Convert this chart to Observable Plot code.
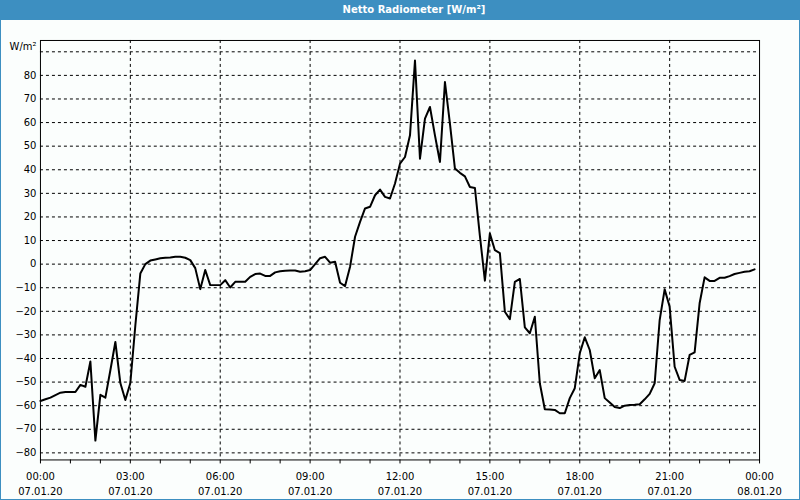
<!DOCTYPE html>
<html><head><meta charset="utf-8">
<script src="https://cdn.jsdelivr.net/npm/d3@7"></script>
<script src="https://cdn.jsdelivr.net/npm/@observablehq/plot@0.6"></script>
<style>
html,body{margin:0;padding:0;background:#fbfefd;}
#wrap{position:relative;width:800px;height:500px;box-sizing:border-box;border:1px solid #3d8fc1;border-top:none;background:#fbfefd;overflow:hidden;}
#title{height:20px;background:#3d8fc1;color:#fff;font:bold 10px "DejaVu Sans";line-height:20px;text-align:center;padding-left:28px;}
#chart{position:absolute;left:-1px;top:20px;}
#chart svg{background:transparent;}
</style></head><body>
<div id="wrap"><div id="title">Netto Radiometer [W/m²]</div><div id="chart"></div></div>
<script>
const startTime = Date.UTC(2020, 0, 7, 0, 0);
const stepMinutes = 10;
const values = [
  -58, -57.3, -56.6, -55.5, -54.5, -54.2, -54.2, -54.2, -51.2, -52,
  -41.3, -74.8, -55.4, -56.6, -45, -33, -50.4, -57.6, -50.4, -26,
  -4, 0, 1.5, 2, 2.5, 2.7, 2.8, 3.1, 3.1, 2.7,
  1.7, -1.7, -10.6, -2.5, -8.9, -8.9, -8.9, -6.8, -9.9, -7.5,
  -7.5, -7.5, -5.4, -4.2, -4, -5, -5, -3.5, -3, -2.8,
  -2.7, -2.7, -3.2, -3, -2.5, 0, 2.5, 3.1, 0.6, 1,
  -7.9, -9.3, -1.1, 11.6, 17.9, 23.6, 24.3, 29.2, 31.6, 28.5,
  27.8, 34.2, 42.6, 45.4, 54.6, 86.3, 44.7, 61.7, 66.6, 54.6,
  43.3, 77.2, 59.6, 40.5, 38.7, 37.2, 32.7, 32.3, 12, -7,
  13, 5.9, 4.7, -20.2, -23.3, -7.5, -6.3, -26.8, -29.3, -22.3,
  -50.5, -61.5, -61.6, -61.8, -63.2, -63.2, -56.8, -52.6, -37.8, -31,
  -36.4, -48.4, -44.9, -56.8, -58.7, -60.6, -61, -60, -59.7, -59.6,
  -59.4, -57.3, -55, -50.5, -23.7, -10.7, -18.1, -43.5, -49.1, -49.5,
  -38.5, -37.4, -16.6, -5.6, -7.1, -7.1, -5.8, -5.8, -5.1, -4.2,
  -3.7, -3.2, -3, -2.2
];
const yTicks = [-80, -70, -60, -50, -40, -30, -20, -10, 0, 10, 20, 30, 40, 50, 60, 70, 80];
const yGrid = [-80, -70, -60, -50, -40, -30, -20, -10, 0, 10, 20, 30, 40, 50, 60, 70, 80, 90];
const yUnitTick = [90];
const yUnitLabel = "W/m²";
const yDomain = [-83, 94.8];
const majorHours = [0, 3, 6, 9, 12, 15, 18, 21, 24];
const gridHours = [3, 6, 9, 12, 15, 18, 21];
const minorHours = [0,1,2,3,4,5,6,7,8,9,10,11,12,13,14,15,16,17,18,19,20,21,22,23,24];
const timeLabels = ["00:00","03:00","06:00","09:00","12:00","15:00","18:00","21:00","00:00"];
const dateLabels = ["07.01.20","07.01.20","07.01.20","07.01.20","07.01.20","07.01.20","07.01.20","07.01.20","08.01.20"];

const toDate = h => new Date(startTime + h * 3600000);
const data = values.map((v, i) => ({time: new Date(startTime + i * stepMinutes * 60000), value: v}));
const labelFor = d => {
  const h = Math.round((d - startTime) / 3600000);
  const k = majorHours.indexOf(h);
  return timeLabels[k] + "\n" + dateLabels[k];
};

const chart = Plot.plot({
  width: 800,
  height: 480,
  marginLeft: 40,
  marginRight: 40,
  marginTop: 20,
  marginBottom: 40,
  style: {fontFamily: "DejaVu Sans", fontSize: "10px", color: "#000", background: "transparent"},
  x: {type: "utc", domain: [toDate(0), toDate(24)], label: null},
  y: {domain: yDomain, label: null},
  marks: [
    Plot.gridY(yGrid, {stroke: "#000", strokeOpacity: 1, strokeDasharray: "3,3"}),
    Plot.gridX(gridHours.map(toDate), {stroke: "#000", strokeOpacity: 1, strokeDasharray: "3,3"}),
    Plot.line(data, {x: "time", y: "value", stroke: "#000", strokeWidth: 2}),
    Plot.frame({stroke: "#000"}),
    Plot.axisY(yTicks, {tickSize: 0, tickPadding: 4, fill: "#000", label: null}),
    Plot.axisY(yUnitTick, {tickSize: 0, tickPadding: 4, dy: -5, tickFormat: () => yUnitLabel, fill: "#000", label: null}),
    Plot.axisX(minorHours.map(toDate), {tickSize: 4, tickFormat: () => "", stroke: "#000", label: null}),
    Plot.axisX(majorHours.map(toDate), {tickSize: 0, tickPadding: 9, tickFormat: labelFor, lineHeight: 1.5, fill: "#000", label: null})
  ]
});
document.getElementById("chart").appendChild(chart);
</script>
</body></html>
